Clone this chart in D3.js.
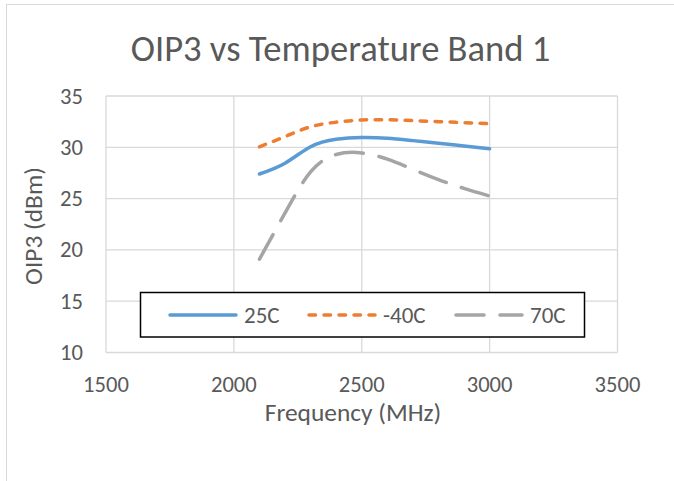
<!DOCTYPE html>
<html>
<head>
<meta charset="utf-8">
<script src="https://cdn.jsdelivr.net/npm/d3@7"></script>
<style>
  body { margin: 0; background: #fff; }
  text { font-family: "Carlito", "Calibri", "Open Sans", sans-serif; fill: #595959; }
</style>
</head>
<body>
<div id="chart"></div>
<script>
// data
const freq = [2100, 2200, 2300, 2400, 2500, 2600, 2700, 2800, 2900, 3000];
const oip25 = [27.4, 28.45, 30.05, 30.78, 30.95, 30.88, 30.65, 30.4, 30.12, 29.85];
const oipM40 = [30.05, 31.05, 32.0, 32.45, 32.66, 32.68, 32.6, 32.5, 32.4, 32.3];
const oip70 = [19.1, 23.6, 27.6, 29.3, 29.45, 28.85, 27.85, 26.85, 26.0, 25.25];

const seriesNames = ["25C", "-40C", "70C"];
const seriesColors = ["#5b9bd5", "#ed7d31", "#a5a5a5"];
const xTicks = [1500, 2000, 2500, 3000, 3500];
const yTicks = [10, 15, 20, 25, 30, 35];

const width = 674, height = 481;
const svg = d3.select("#chart").append("svg")
  .attr("width", width)
  .attr("height", height);

// chart area border (runs off the right and bottom)
svg.append("rect")
  .attr("x", 6.5).attr("y", 4.5)
  .attr("width", 720).attr("height", 520)
  .attr("fill", "#fff")
  .attr("stroke", "#d9d9d9")
  .attr("stroke-width", 1);

const x = d3.scaleLinear().domain([1500, 3500]).range([106, 617.5]);
const y = d3.scaleLinear().domain([10, 35]).range([352.5, 96]);

// gridlines
svg.append("g").selectAll("line")
  .data(yTicks).enter().append("line")
  .attr("x1", x(1500)).attr("x2", x(3500))
  .attr("y1", d => y(d)).attr("y2", d => y(d))
  .attr("stroke", "#d9d9d9").attr("stroke-width", 1.3);

svg.append("g").selectAll("line")
  .data(xTicks).enter().append("line")
  .attr("x1", d => x(d)).attr("x2", d => x(d))
  .attr("y1", y(10)).attr("y2", y(35))
  .attr("stroke", "#d9d9d9").attr("stroke-width", 1.3);

// tick labels
svg.append("g").selectAll("text")
  .data(yTicks).enter().append("text")
  .attr("x", 83)
  .attr("y", d => y(d) + 7.5)
  .attr("text-anchor", "end")
  .style("font-size", "22.6px")
  .text(d => d);

svg.append("g").selectAll("text")
  .data(xTicks).enter().append("text")
  .attr("x", d => x(d))
  .attr("y", 391.5)
  .attr("text-anchor", "middle")
  .style("font-size", "22.6px")
  .text(d => d);

// titles
svg.append("text")
  .attr("x", 340.5).attr("y", 61)
  .attr("text-anchor", "middle")
  .style("font-size", "36.6px")
  .text("OIP3 vs Temperature Band 1");

svg.append("text")
  .attr("x", 353).attr("y", 421)
  .attr("text-anchor", "middle")
  .style("font-size", "25.4px")
  .text("Frequency (MHz)");

svg.append("text")
  .attr("transform", "translate(42,226) rotate(-90)")
  .attr("text-anchor", "middle")
  .style("font-size", "25.4px")
  .text("OIP3 (dBm)");

// series
const dashes = [null, "6.5,8.5", "28,16"];
const series = [oip25, oipM40, oip70];
const line = d3.line()
  .x(d => x(d[0]))
  .y(d => y(d[1]))
  .curve(d3.curveNatural);

series.forEach((vals, i) => {
  svg.append("path")
    .datum(freq.map((f, j) => [f, vals[j]]))
    .attr("d", line)
    .attr("fill", "none")
    .attr("stroke", seriesColors[i])
    .attr("stroke-width", 3.5)
    .attr("stroke-linecap", "round")
    .attr("stroke-dasharray", dashes[i]);
});

// legend
const legend = svg.append("g");
legend.append("rect")
  .attr("x", 140.5).attr("y", 292.5)
  .attr("width", 444).attr("height", 44.5)
  .attr("fill", "#fff")
  .attr("stroke", "#000")
  .attr("stroke-width", 1.5);

const legendX = [168, 307, 454];
seriesNames.forEach((name, i) => {
  legend.append("line")
    .attr("x1", legendX[i] + 2).attr("x2", legendX[i] + 68)
    .attr("y1", 315).attr("y2", 315)
    .attr("stroke", seriesColors[i])
    .attr("stroke-width", 3.5)
    .attr("stroke-linecap", "round")
    .attr("stroke-dasharray", dashes[i]);
  legend.append("text")
    .attr("x", legendX[i] + 76)
    .attr("y", 322.5)
    .style("font-size", "23px")
    .text(name);
});
</script>
</body>
</html>
